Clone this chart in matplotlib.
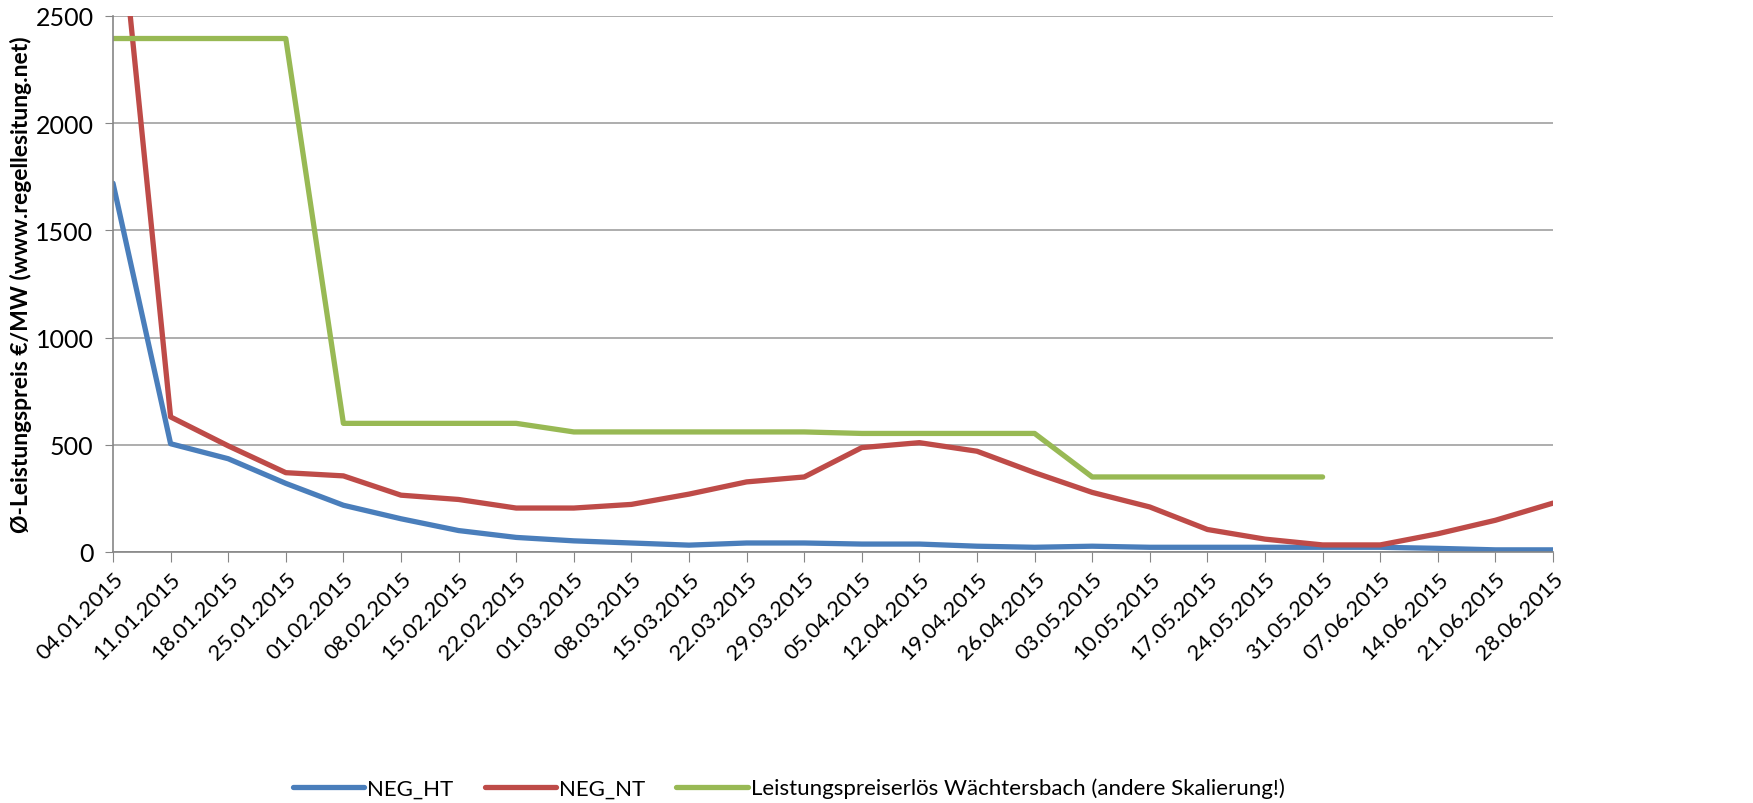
import numpy as np
import matplotlib.pyplot as plt

# ==========================================================
# DATA
# ==========================================================
dates = ["04.01.2015", "11.01.2015", "18.01.2015", "25.01.2015", "01.02.2015",
         "08.02.2015", "15.02.2015", "22.02.2015", "01.03.2015", "08.03.2015",
         "15.03.2015", "22.03.2015", "29.03.2015", "05.04.2015", "12.04.2015",
         "19.04.2015", "26.04.2015", "03.05.2015", "10.05.2015", "17.05.2015",
         "24.05.2015", "31.05.2015", "07.06.2015", "14.06.2015", "21.06.2015",
         "28.06.2015"]

neg_ht = [1720, 505, 435, 320, 218, 155, 100, 68, 52, 42,
          32, 42, 42, 37, 37, 27, 22, 27, 22, 22,
          22, 22, 22, 17, 10, 10]

neg_nt = [3300, 630, 495, 370, 355, 265, 245, 205, 205, 222,
          270, 327, 350, 487, 510, 470, 370, 278, 210, 105,
          60, 33, 33, 85, 148, 228]

waechtersbach = [2395, 2395, 2395, 2395, 600, 600, 600, 600, 560, 560,
                 560, 560, 560, 553, 553, 553, 553, 350, 350, 350,
                 350, 350, None, None, None, None]

y_ticks = [0, 500, 1000, 1500, 2000, 2500]

# ==========================================================
# PLOT
# ==========================================================
plt.rcParams['font.family'] = ['Lato', 'DejaVu Sans']

fig = plt.figure(figsize=(17.53, 8.04), dpi=100)
ax = fig.add_axes([113 / 1753, 1 - 553 / 804, 1440 / 1753, 536 / 804])

x = np.arange(len(dates))
w_vals = np.array([np.nan if v is None else v for v in waechtersbach], dtype=float)

ax.plot(x, neg_ht, color="#4a7ebb", lw=3.8, label="NEG_HT", solid_capstyle="round")
ax.plot(x, neg_nt, color="#be4b48", lw=3.8, label="NEG_NT", solid_capstyle="round")
ax.plot(x, w_vals, color="#98b954", lw=3.8,
        label="Leistungspreiserlös Wächtersbach (andere Skalierung!)",
        solid_capstyle="round")

ax.set_xlim(0, len(dates) - 1)
ax.set_ylim(0, 2500)
ax.set_yticks(y_ticks)
ax.set_xticks(x)
ax.set_xticklabels(dates, rotation=45, ha="right", va="top", rotation_mode="anchor",
                   fontsize=16)
ax.tick_params(axis="y", labelsize=18, length=6, color="#868686", pad=8)
ax.tick_params(axis="x", length=7, color="#868686", pad=5)

ax.grid(axis="y", color="#a0a0a0", lw=1.2)
ax.set_axisbelow(True)
for s in ["top", "right"]:
    ax.spines[s].set_visible(False)
for s in ["left", "bottom"]:
    ax.spines[s].set_color("#868686")
    ax.spines[s].set_linewidth(1.2)

ax.set_ylabel("Ø-Leistungspreis €/MW (www.regellesitung.net)", fontsize=16.5,
              fontweight="bold")
ax.yaxis.set_label_coords(-0.056, 0.5)

fig.legend(loc="center", bbox_to_anchor=(0.45, 1 - 789 / 804), ncol=3, frameon=False,
           fontsize=16, handlelength=3.2, columnspacing=1.4, handletextpad=0.15)

fig.savefig("out.png", dpi=100)
